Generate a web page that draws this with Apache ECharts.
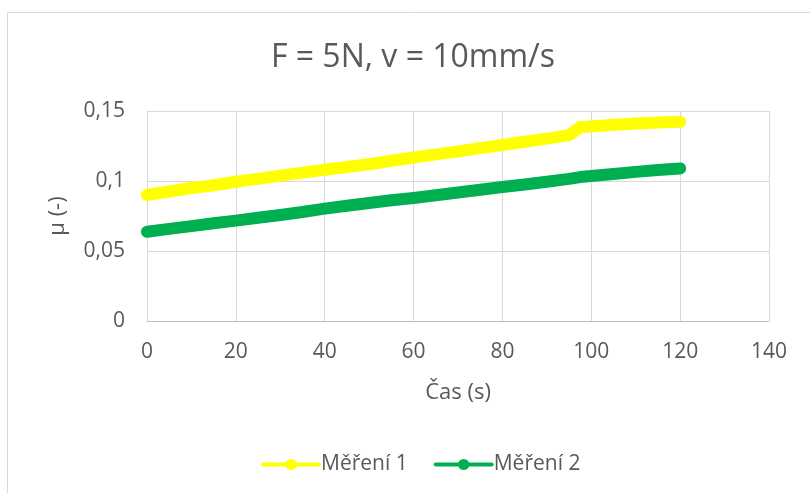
<!DOCTYPE html>
<html>
<head>
<meta charset="utf-8">
<script src="https://cdn.jsdelivr.net/npm/echarts@6/dist/echarts.min.js"></script>
<style>html,body{margin:0;padding:0;background:#fff}#c{width:810px;height:493px}</style>
</head>
<body>
<div id="c"></div>
<script>
const titleText = 'F = 5N, v = 10mm/s';
const xName = 'Čas (s)';
const yName = 'μ (-)';
const seriesNames = ['Měření 1', 'Měření 2'];
const time = [0, 5, 10, 15, 20, 25, 30, 35, 40, 45, 50, 55, 60, 65, 70, 75, 80, 85, 90, 95, 97.5, 100, 105, 110, 115, 120];
const mereni1 = [0.090, 0.0925, 0.095, 0.097, 0.0995, 0.1015, 0.1038, 0.106, 0.108, 0.110, 0.112, 0.1145, 0.1168, 0.119, 0.1212, 0.1235, 0.1257, 0.128, 0.1303, 0.1328, 0.1385, 0.139, 0.1402, 0.141, 0.1418, 0.1424];
const mereni2 = [0.0638, 0.0658, 0.0678, 0.0698, 0.0717, 0.0737, 0.0757, 0.0779, 0.0803, 0.0823, 0.0843, 0.0862, 0.0879, 0.0898, 0.0918, 0.0938, 0.0957, 0.0975, 0.0995, 0.1015, 0.1028, 0.1036, 0.105, 0.1065, 0.1078, 0.109];
const colors = ['#ffff00', '#00b050'];

const font = 'Open Sans';
const chart = echarts.init(document.getElementById('c'), null, {renderer: 'canvas'});
const mk = (vals) => time.map((t, i) => [t, vals[i]]);
chart.setOption({
  animation: false,
  backgroundColor: '#fff',
  graphic: [{type: 'rect', shape: {x: 7.5, y: 12.5, width: 900, height: 600}, style: {fill: 'none', stroke: '#d9d9d9', lineWidth: 1}, z: -1}],
  title: {text: titleText, left: 408, top: 37, textAlign: 'center',
    textStyle: {fontFamily: font, fontSize: 32, fontWeight: 'normal', color: '#595959'}},
  grid: {left: 147, right: 41, top: 111, bottom: 172, containLabel: false},
  legend: {
    top: 449, left: 256, itemWidth: 56, itemHeight: 14, itemGap: 26,
    lineStyle: {width: 4},
    textStyle: {fontFamily: font, fontSize: 21, color: '#595959', padding: [0, 0, 0, -3]},
    data: seriesNames
  },
  xAxis: {
    type: 'value', min: 0, max: 140, interval: 20,
    name: xName, nameLocation: 'middle', nameGap: 61,
    nameTextStyle: {fontFamily: font, fontSize: 22, color: '#595959'},
    axisLine: {show: true, lineStyle: {color: '#bfbfbf', width: 1}},
    axisTick: {show: false},
    axisLabel: {fontFamily: font, fontSize: 21, color: '#595959', margin: 21},
    splitLine: {show: true, lineStyle: {color: '#d9d9d9', width: 1}}
  },
  yAxis: {
    type: 'value', min: 0, max: 0.15, interval: 0.05,
    name: yName, nameLocation: 'middle', nameGap: 78, nameRotate: 90,
    nameTextStyle: {fontFamily: font, fontSize: 22, color: '#595959'},
    axisLine: {show: false},
    axisTick: {show: false},
    axisLabel: {fontFamily: font, fontSize: 21, color: '#595959', margin: 22,
      formatter: v => String(+v.toFixed(2)).replace('.', ',')},
    splitLine: {show: true, lineStyle: {color: '#d9d9d9', width: 1}}
  },
  series: [
    {name: seriesNames[0], type: 'line', data: mk(mereni1), symbol: 'circle', symbolSize: 14, showSymbol: false,
      itemStyle: {color: colors[0]}, lineStyle: {color: colors[0], width: 12, cap: 'round', join: 'round'}},
    {name: seriesNames[1], type: 'line', data: mk(mereni2), symbol: 'circle', symbolSize: 14, showSymbol: false,
      itemStyle: {color: colors[1]}, lineStyle: {color: colors[1], width: 12, cap: 'round', join: 'round'}}
  ]
});
</script>
</body>
</html>
